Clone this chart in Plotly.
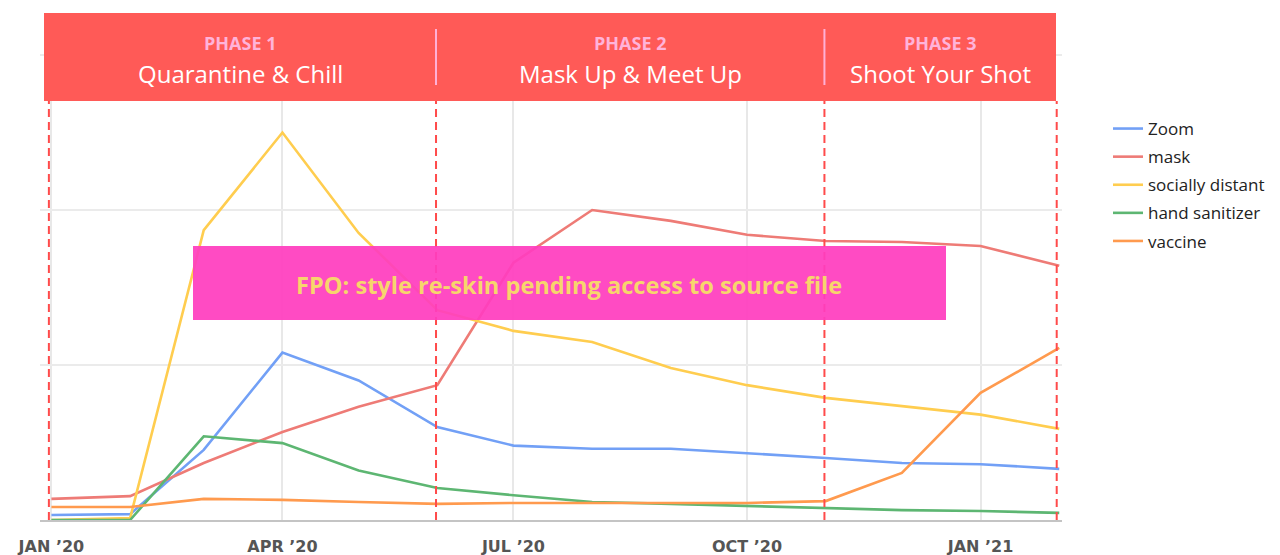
import plotly.graph_objects as go

months = ["2020-01-01", "2020-02-01", "2020-03-01", "2020-04-01", "2020-05-01",
          "2020-06-01", "2020-07-01", "2020-08-01", "2020-09-01", "2020-10-01",
          "2020-11-01", "2020-12-01", "2021-01-01", "2021-02-01"]

zoom = [1.6, 1.9, 22.6, 54, 45, 30, 24, 23, 23, 21.6, 20, 18.4, 18, 16.5]
mask = [6.8, 7.7, 18.4, 28.4, 36.5, 43.5, 83, 100, 96.5, 92, 90, 89.7, 88.4, 82]
socially_distant = [0, 0.6, 93.5, 125, 92.6, 67.7, 61, 57.4, 49, 43.5, 39.4, 36.8, 34, 29.4]
hand_sanitizer = [0, 0, 27, 24.8, 16, 10.3, 8, 5.8, 5.2, 4.5, 3.9, 3.2, 2.9, 2.3]
vaccine = [4.2, 4.2, 6.8, 6.5, 5.8, 5.2, 5.5, 5.5, 5.5, 5.5, 6.1, 15.2, 41, 55.5]

series_names = ["Zoom", "mask", "socially distant", "hand sanitizer", "vaccine"]
series_values = [zoom, mask, socially_distant, hand_sanitizer, vaccine]
series_colors = ["#72A0F6", "#EE7B76", "#FFCD4F", "#5DB672", "#FF9A4E"]

tick_vals = ["2020-01-01", "2020-04-01", "2020-07-01", "2020-10-01", "2021-01-01"]
tick_text = ["JAN ’20", "APR ’20", "JUL ’20", "OCT ’20", "JAN ’21"]

phase_bounds = ["2019-12-31", "2020-05-31 12:00", "2020-10-31 12:00", "2021-01-31"]
phase_labels = ["PHASE 1", "PHASE 2", "PHASE 3"]
phase_titles = ["Quarantine & Chill", "Mask Up & Meet Up", "Shoot Your Shot"]
fpo_text = "FPO: style re-skin pending access to source file"

fig = go.Figure()
for i, (name, vals, col) in enumerate(zip(series_names, series_values, series_colors)):
    fig.add_trace(go.Scatter(
        x=months, y=vals, name=name, mode="lines",
        line=dict(color=col, width=2.6),
        legendgroup=f"g{i}",
    ))

# page has an 8px body margin; layout below is given in page pixels
OFF = 8
W, H = 1272, 555
L, R, T, B = 40, 1062, 13, 520   # plot area in page pixels
PW, PH = R - L, B - T

def px(xp):
    return (xp - L) / PW

def py(yp):
    return (B - yp) / PH

shapes = []
for d in phase_bounds:
    shapes.append(dict(type="line", xref="x", yref="paper", x0=d, x1=d,
                       y0=0, y1=py(101), line=dict(color="#FF4B4B", width=2, dash="8px,5px"),
                       layer="above"))
shapes.append(dict(type="rect", xref="paper", yref="paper", x0=px(44), x1=px(1056),
                   y0=py(101), y1=py(13), fillcolor="#FF5A57", line=dict(width=0), layer="above"))
for d in phase_bounds[1:3]:
    shapes.append(dict(type="line", xref="x", yref="paper", x0=d, x1=d,
                       y0=py(85), y1=py(29), line=dict(color="#FFB0D6", width=2), layer="above"))
shapes.append(dict(type="rect", xref="paper", yref="paper", x0=px(193), x1=px(946),
                   y0=py(320), y1=py(246), fillcolor="#FF3DBE", opacity=0.93,
                   line=dict(width=0), layer="above"))

annotations = []
centers = [240, 630, 940]
for c, lab, tit in zip(centers, phase_labels, phase_titles):
    annotations.append(dict(xref="paper", yref="paper", x=px(c), y=py(43), text=f"<b>{lab}</b>",
                            showarrow=False, font=dict(family="Open Sans", size=18, color="#FFB3DA"),
                            xanchor="center", yanchor="middle"))
    annotations.append(dict(xref="paper", yref="paper", x=px(c), y=py(73), text=tit,
                            showarrow=False,
                            font=dict(family="Open Sans", size=24, color="#FFFFFF", weight=500),
                            xanchor="center", yanchor="middle"))
annotations.append(dict(xref="paper", yref="paper", x=px(569), y=py(285), text=f"<b>{fpo_text}</b>",
                        showarrow=False, font=dict(family="Open Sans", size=23.6, color="#F7D56C"),
                        xanchor="center", yanchor="middle"))

fig.update_layout(
    width=W, height=H,
    margin=dict(l=L - OFF, r=W - (R - OFF), t=T - OFF, b=H - (B - OFF)),
    paper_bgcolor="white", plot_bgcolor="white",
    font=dict(family="Open Sans", color="#222"),
    showlegend=True,
    legend=dict(x=px(1108), y=py(111), xanchor="left", yanchor="top",
                font=dict(family="Open Sans", size=17, color="#222"),
                tracegroupgap=3, bgcolor="rgba(0,0,0,0)"),
    shapes=shapes, annotations=annotations,
    xaxis=dict(type="date", range=["2019-12-27 12:00", "2021-02-02 02:00"],
               tickvals=tick_vals, ticktext=tick_text, showgrid=True,
               gridcolor="#E8E8E8", gridwidth=2, showline=True, linecolor="#C4C4C4",
               linewidth=2, ticks="", ticklabelstandoff=11, automargin=False,
               tickfont=dict(family="DejaVu Sans", size=16, color="#555", weight="bold"),
               zeroline=False, fixedrange=True),
    yaxis=dict(range=[0, 163.55], dtick=50, showgrid=True, gridcolor="#EBEBEB", gridwidth=2,
               showticklabels=False, zeroline=False, showline=False, ticks="",
               automargin=False, fixedrange=True),
)

fig.write_html("out.html")
